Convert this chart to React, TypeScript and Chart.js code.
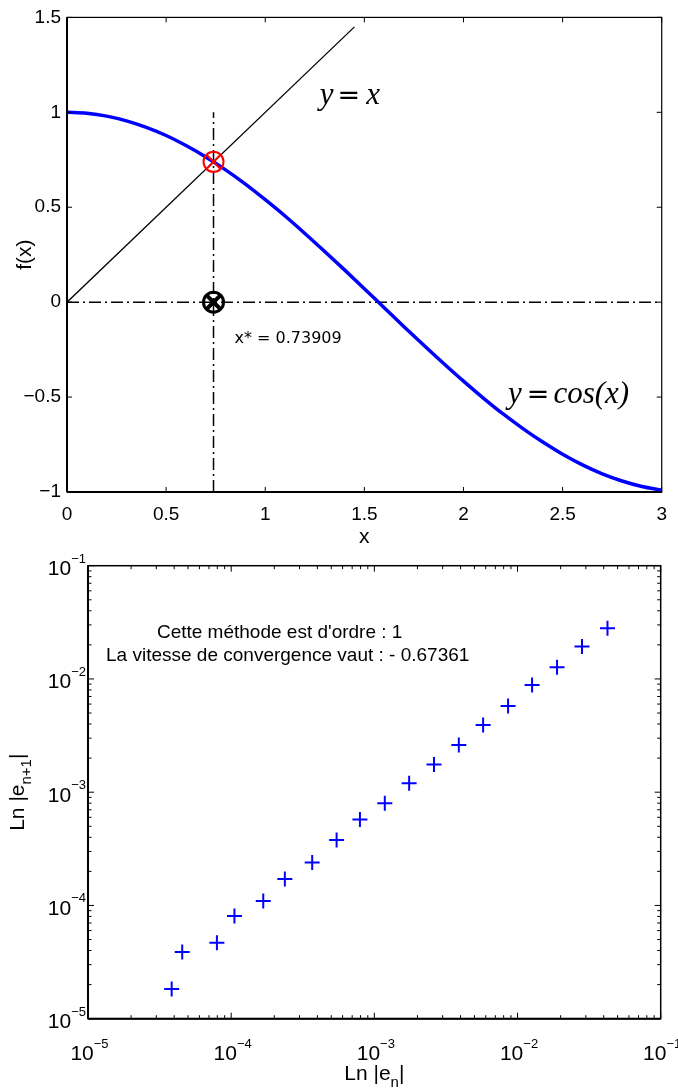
import React, { useEffect, useRef } from 'react';
import { Chart, registerables } from 'chart.js';

Chart.register(...registerables);

// ---------- Top chart data ----------
const cosX = [0, 0.1, 0.2, 0.3, 0.4, 0.5, 0.6, 0.7, 0.8, 0.9, 1.0, 1.1, 1.2, 1.3, 1.4, 1.5, 1.6, 1.7, 1.8, 1.9, 2.0, 2.1, 2.2, 2.3, 2.4, 2.5, 2.6, 2.7, 2.8, 2.9, 3.0];
const cosY = [1.0, 0.995, 0.98, 0.955, 0.921, 0.878, 0.825, 0.765, 0.697, 0.622, 0.54, 0.454, 0.362, 0.267, 0.17, 0.071, -0.029, -0.129, -0.227, -0.323, -0.416, -0.505, -0.589, -0.666, -0.737, -0.801, -0.857, -0.904, -0.942, -0.971, -0.99];
const identityX = [0, 1.45];
const identityY = [0, 1.45];
const fixedPoint = 0.73909;
const zeroLineX = [0, 3];
const zeroLineY = [0, 0];
const guideY = [-1, 1];
const xTicksTop = [0, 0.5, 1, 1.5, 2, 2.5, 3];
const yTicksTop = [-1, -0.5, 0, 0.5, 1, 1.5];
const fixedPointLabel = 'x* = 0.73909';

// ---------- Bottom chart data ----------
const errN = [3.84e-5, 4.55e-5, 7.95e-5, 1.054e-4, 1.675e-4, 2.37e-4, 3.68e-4, 5.45e-4, 7.93e-4, 1.183e-3, 1.75e-3, 2.61e-3, 3.89e-3, 5.75e-3, 8.59e-3, 1.264e-2, 1.888e-2, 2.82e-2, 4.25e-2];
const errN1 = [1.83e-5, 3.88e-5, 4.69e-5, 8.07e-5, 1.094e-4, 1.714e-4, 2.39e-4, 3.79e-4, 5.75e-4, 7.98e-4, 1.2e-3, 1.76e-3, 2.61e-3, 3.92e-3, 5.77e-3, 8.85e-3, 1.268e-2, 1.93e-2, 2.8e-2];
const logTickValues = [1e-5, 1e-4, 1e-3, 1e-2, 1e-1];
const logTickExponents = ['\u22125', '\u22124', '\u22123', '\u22122', '\u22121'];
const minorMultipliers = [2, 3, 4, 5, 6, 7, 8, 9];
const orderText = "Cette méthode est d'ordre : 1";
const speedText = 'La vitesse de convergence vaut : - 0.67361';

const SANS = '"Liberation Sans", Arial, sans-serif';
const SERIF = '"Liberation Serif", "Times New Roman", serif';

type Run = { t: string; f: string; dy?: number; gap?: number };
function runsWidth(ctx: CanvasRenderingContext2D, runs: Run[]) {
  let w = 0;
  for (const r of runs) {
    ctx.font = r.f;
    w += ctx.measureText(r.t).width + (r.gap || 0);
  }
  return w;
}
function drawRuns(ctx: CanvasRenderingContext2D, x: number, y: number, runs: Run[]) {
  let cx = x;
  ctx.textAlign = 'left';
  ctx.textBaseline = 'alphabetic';
  for (const r of runs) {
    ctx.font = r.f;
    ctx.fillText(r.t, cx, y + (r.dy || 0));
    cx += ctx.measureText(r.t).width + (r.gap || 0);
  }
}
function seg(ctx: CanvasRenderingContext2D, x1: number, y1: number, x2: number, y2: number) {
  ctx.beginPath();
  ctx.moveTo(x1, y1);
  ctx.lineTo(x2, y2);
  ctx.stroke();
}

const topDecor = {
  id: 'topDecor',
  afterDraw(chart: any) {
    const { ctx, chartArea: a, scales } = chart;
    const xs = scales.x;
    const ys = scales.y;
    ctx.save();
    ctx.strokeStyle = '#000';
    ctx.lineWidth = 1.2;
    ctx.strokeRect(a.left, a.top, a.right - a.left, a.bottom - a.top);
    ctx.lineWidth = 2;
    seg(ctx, a.left, a.top, a.left, a.bottom);
    seg(ctx, a.left, a.bottom, a.right, a.bottom);
    ctx.lineWidth = 1;
    for (const v of xTicksTop) {
      const p = xs.getPixelForValue(v);
      seg(ctx, p, a.bottom, p, a.bottom - 5);
      seg(ctx, p, a.top, p, a.top + 5);
    }
    for (const v of yTicksTop) {
      const p = ys.getPixelForValue(v);
      seg(ctx, a.left, p, a.left + 5, p);
      seg(ctx, a.right, p, a.right - 5, p);
    }
    ctx.fillStyle = '#000';
    const it = 'italic 31px ' + SERIF;
    const eq = '27px "DejaVu Sans", sans-serif';
    drawRuns(ctx, xs.getPixelForValue(1.275), ys.getPixelForValue(1.046), [
      { t: 'y', f: it, gap: 4 },
      { t: '=', f: eq, gap: 6 },
      { t: 'x', f: it },
    ]);
    drawRuns(ctx, xs.getPixelForValue(2.225), ys.getPixelForValue(-0.529), [
      { t: 'y', f: it, gap: 5 },
      { t: '=', f: eq, gap: 4 },
      { t: 'cos(x)', f: it },
    ]);
    drawRuns(ctx, xs.getPixelForValue(0.845), ys.getPixelForValue(-0.216), [
      { t: fixedPointLabel, f: '16px "DejaVu Sans", sans-serif' },
    ]);
    ctx.restore();
  },
};

const bottomDecor = {
  id: 'bottomDecor',
  afterDraw(chart: any) {
    const { ctx, chartArea: a, scales } = chart;
    const xs = scales.x;
    const ys = scales.y;
    ctx.save();
    ctx.strokeStyle = '#000';
    ctx.lineWidth = 1.5;
    ctx.strokeRect(a.left, a.top, a.right - a.left, a.bottom - a.top);
    ctx.lineWidth = 2;
    seg(ctx, a.left, a.top, a.left, a.bottom);
    seg(ctx, a.left, a.bottom, a.right, a.bottom);
    ctx.lineWidth = 1;
    for (let i = 0; i < logTickValues.length; i++) {
      const dec = logTickValues[i];
      const px = xs.getPixelForValue(dec);
      const py = ys.getPixelForValue(dec);
      seg(ctx, px, a.bottom, px, a.bottom - 6);
      seg(ctx, px, a.top, px, a.top + 6);
      seg(ctx, a.left, py, a.left + 6, py);
      seg(ctx, a.right, py, a.right - 6, py);
      if (i < logTickValues.length - 1) {
        for (const m of minorMultipliers) {
          const v = m * dec;
          const mx = xs.getPixelForValue(v);
          const my = ys.getPixelForValue(v);
          seg(ctx, mx, a.bottom, mx, a.bottom - 3.5);
          seg(ctx, mx, a.top, mx, a.top + 3.5);
          seg(ctx, a.left, my, a.left + 3.5, my);
          seg(ctx, a.right, my, a.right - 3.5, my);
        }
      }
    }
    // tick labels
    ctx.fillStyle = '#000';
    ctx.textBaseline = 'alphabetic';
    ctx.textAlign = 'left';
    const big = '21px ' + SANS;
    const sup = '13px ' + SANS;
    for (let i = 0; i < logTickValues.length; i++) {
      const v = logTickValues[i];
      const e = logTickExponents[i];
      ctx.font = big;
      const bw = ctx.measureText('10').width;
      ctx.font = sup;
      const sw = ctx.measureText(e).width;
      // y axis
      const py = ys.getPixelForValue(v);
      const right = a.left - 2;
      ctx.font = sup;
      ctx.fillText(e, right - sw, py - 3);
      ctx.font = big;
      ctx.fillText('10', right - sw - bw, py + 9.3);
      // x axis
      const px = xs.getPixelForValue(v);
      const start = px - (bw + sw) / 2 + 1.5;
      ctx.font = big;
      ctx.fillText('10', start, a.bottom + 41);
      ctx.font = sup;
      ctx.fillText(e, start + bw, a.bottom + 29.5);
    }
    // axis titles
    const tf = '21px ' + SANS;
    const sf = '15px ' + SANS;
    const xRuns: Run[] = [
      { t: 'Ln |e', f: tf },
      { t: 'n', f: sf, dy: 6.5 },
      { t: '|', f: tf },
    ];
    const xw = runsWidth(ctx, xRuns);
    drawRuns(ctx, (a.left + a.right) / 2 - xw / 2, a.bottom + 61.3, xRuns);
    const yRuns: Run[] = [
      { t: 'Ln |e', f: tf },
      { t: 'n+1', f: sf, dy: 6.5 },
      { t: '|', f: tf },
    ];
    const yw = runsWidth(ctx, yRuns);
    ctx.save();
    ctx.translate(24, (a.top + a.bottom) / 2);
    ctx.rotate(-Math.PI / 2);
    drawRuns(ctx, -yw / 2, 0, yRuns);
    ctx.restore();
    // annotations
    const af = '19px ' + SANS;
    drawRuns(ctx, xs.getPixelForValue(3.03e-5), ys.getPixelForValue(0.023), [{ t: orderText, f: af }]);
    drawRuns(ctx, xs.getPixelForValue(1.336e-5), ys.getPixelForValue(0.0144), [{ t: speedText, f: af }]);
    ctx.restore();
  },
};

const fmtTick = (v: number) => (v < 0 ? '\u2212' + String(-v) : String(v));

export default function App() {
  const topRef = useRef<HTMLCanvasElement>(null);
  const botRef = useRef<HTMLCanvasElement>(null);

  useEffect(() => {
    const tickFont = { family: SANS, size: 19 };
    const titleFont = { family: SANS, size: 21 };
    const top = new Chart(topRef.current as HTMLCanvasElement, {
      type: 'scatter',
      data: {
        datasets: [
          { data: [{ x: fixedPoint, y: fixedPoint }], pointStyle: 'crossRot', pointRadius: 10, borderColor: '#ff0000', backgroundColor: 'rgba(0,0,0,0)', borderWidth: 2 },
          { data: [{ x: fixedPoint, y: fixedPoint }], pointStyle: 'circle', pointRadius: 10, borderColor: '#ff0000', backgroundColor: 'rgba(0,0,0,0)', borderWidth: 2 },
          { data: [{ x: fixedPoint, y: 0 }], pointStyle: 'crossRot', pointRadius: 9, borderColor: '#000', backgroundColor: 'rgba(0,0,0,0)', borderWidth: 4 },
          { data: [{ x: fixedPoint, y: 0 }], pointStyle: 'circle', pointRadius: 10, borderColor: '#000', backgroundColor: 'rgba(0,0,0,0)', borderWidth: 3 },
          { data: cosX.map((x, i) => ({ x, y: cosY[i] })), showLine: true, borderColor: '#0000ff', borderWidth: 3.5, pointRadius: 0, cubicInterpolationMode: 'monotone' },
          { data: identityX.map((x, i) => ({ x, y: identityY[i] })), showLine: true, borderColor: '#000', borderWidth: 1.3, pointRadius: 0 },
          { data: zeroLineX.map((x, i) => ({ x, y: zeroLineY[i] })), showLine: true, borderColor: '#000', borderWidth: 1.5, borderDash: [12, 4, 2, 4], pointRadius: 0 },
          { data: guideY.map((y) => ({ x: fixedPoint, y })), showLine: true, borderColor: '#000', borderWidth: 1.5, borderDash: [12, 4, 2, 4], pointRadius: 0 },
        ] as any,
      },
      options: {
        responsive: false,
        animation: false,
        devicePixelRatio: 1,
        events: [],
        layout: { padding: { left: 0, top: 13, right: 11, bottom: 0 } },
        plugins: { legend: { display: false }, tooltip: { enabled: false } },
        scales: {
          x: {
            type: 'linear',
            min: 0,
            max: 3,
            afterBuildTicks: (s: any) => { s.ticks = xTicksTop.map((value) => ({ value })); },
            afterFit: (s: any) => { s.height = 58; },
            grid: { display: false, drawTicks: false },
            border: { display: false },
            ticks: { font: tickFont, color: '#000', padding: 11, autoSkip: false, maxRotation: 0, callback: (v: any) => fmtTick(Number(v)) },
            title: { display: true, text: 'x', font: titleFont, color: '#000', padding: { top: 0, bottom: 0 } },
          },
          y: {
            type: 'linear',
            min: -1,
            max: 1.5,
            afterBuildTicks: (s: any) => { s.ticks = yTicksTop.map((value) => ({ value })); },
            afterFit: (s: any) => { s.width = 67; },
            grid: { display: false, drawTicks: false },
            border: { display: false },
            ticks: { font: tickFont, color: '#000', padding: 6, autoSkip: false, callback: (v: any) => fmtTick(Number(v)) },
            title: { display: true, text: 'f(x)', font: titleFont, color: '#000', padding: { top: 12.4, bottom: 0 } },
          },
        },
      } as any,
      plugins: [topDecor],
    });

    const bottom = new Chart(botRef.current as HTMLCanvasElement, {
      type: 'scatter',
      data: {
        datasets: [
          { data: errN.map((x, i) => ({ x, y: errN1[i] })), pointStyle: 'cross', pointRadius: 7.5, borderColor: '#0000ff', backgroundColor: '#0000ff', borderWidth: 2 },
        ] as any,
      },
      options: {
        responsive: false,
        animation: false,
        devicePixelRatio: 1,
        events: [],
        layout: { padding: { left: 88, top: 15.7, right: 17.3, bottom: 72.3 } },
        plugins: { legend: { display: false }, tooltip: { enabled: false } },
        scales: {
          x: { type: 'logarithmic', min: 1e-5, max: 1e-1, display: false },
          y: { type: 'logarithmic', min: 1e-5, max: 1e-1, display: false },
        },
      } as any,
      plugins: [bottomDecor],
    });

    return () => {
      top.destroy();
      bottom.destroy();
    };
  }, []);

  return (
    <div style={{ position: 'absolute', left: 0, top: 0, width: 678, height: 1091, background: '#fff' }}>
      <canvas ref={topRef} width={678} height={550} style={{ position: 'absolute', left: 0, top: 0, width: 678, height: 550, display: 'block' }} />
      <canvas ref={botRef} width={678} height={541} style={{ position: 'absolute', left: 0, top: 550, width: 678, height: 541, display: 'block' }} />
    </div>
  );
}
